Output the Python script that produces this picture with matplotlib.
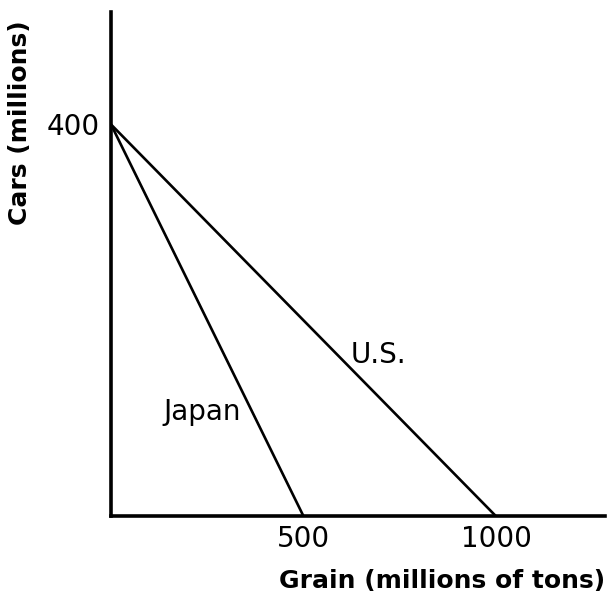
import matplotlib.pyplot as plt

# production possibilities frontiers
countries = ['Japan', 'U.S.']
cars_max = [400, 400]
grain_max = [500, 1000]
label_pos = [(236, 106), (694, 165)]

xticks = [500, 1000]
yticks = [400]

fig = plt.figure(figsize=(6.08, 5.92), dpi=100)
ax = fig.add_axes([0.1826, 0.128, 0.8124, 0.852])

for name, c, g, (lx, ly) in zip(countries, cars_max, grain_max, label_pos):
    ax.plot([0, g], [c, 0], color='black', lw=1.9, solid_capstyle='butt')
    ax.text(lx, ly, name, fontsize=20, ha='center', va='center')

ax.set_xlim(0, 1283)
ax.set_ylim(0, 515)

for s in ['top', 'right']:
    ax.spines[s].set_visible(False)
for s in ['left', 'bottom']:
    ax.spines[s].set_linewidth(2.6)

ax.set_xticks(xticks)
ax.set_xticklabels([str(v) for v in xticks])
ax.set_yticks(yticks)
ax.set_yticklabels([str(v) for v in yticks])
ax.tick_params(length=0, labelsize=20, pad=6)
ax.tick_params(axis='y', pad=8)

ax.set_xlabel('Grain (millions of tons)', fontsize=18, fontweight='bold', ha='right')
ax.xaxis.set_label_coords(1.0, -0.105)
ax.set_ylabel('Cars (millions)', fontsize=18, fontweight='bold', ha='center')
ax.yaxis.set_label_coords(-0.16, 0.78)

fig.savefig('out.png', dpi=100)
